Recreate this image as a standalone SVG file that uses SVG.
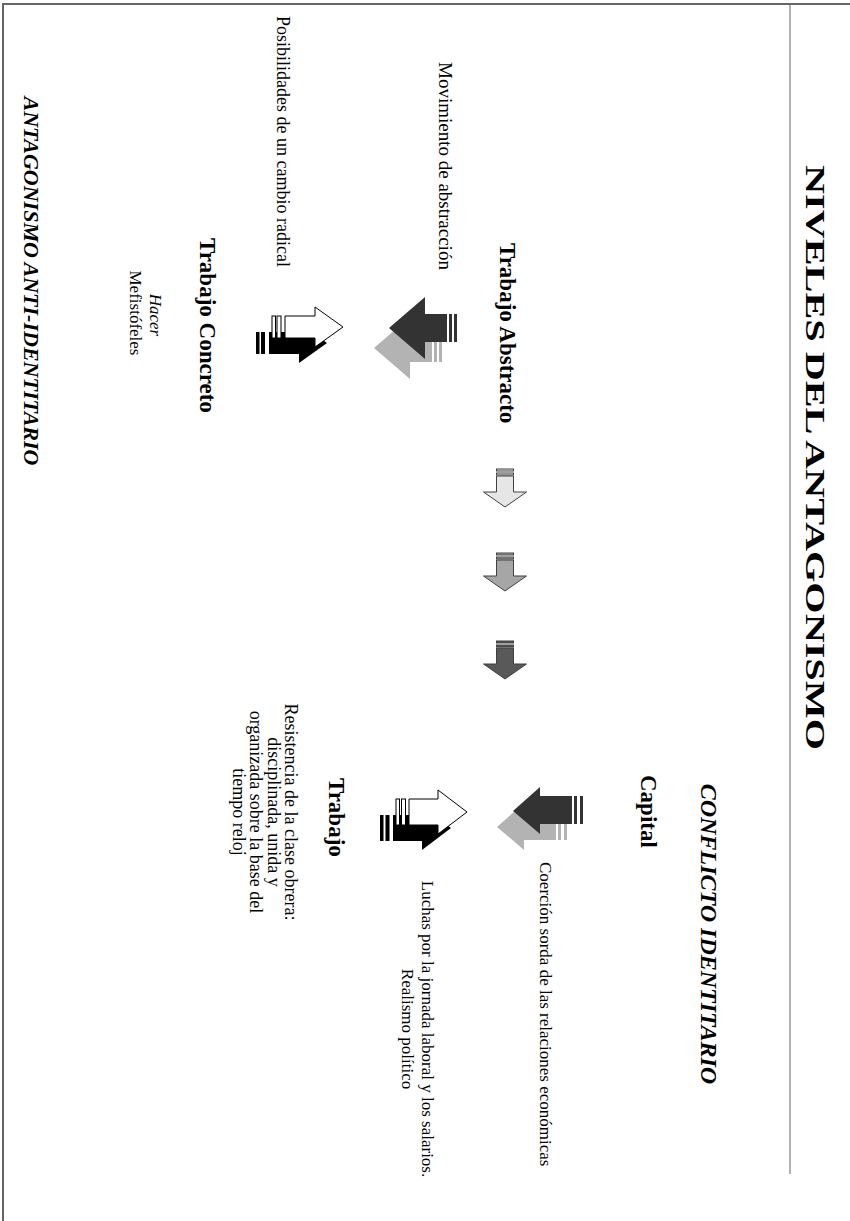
<svg xmlns="http://www.w3.org/2000/svg" width="850" height="1221" viewBox="0 0 850 1221">
<style>
.t{font-family:"Liberation Serif","Times New Roman",serif;fill:#000}
.b{font-weight:bold}
.i{font-style:italic}
.frame{stroke:#666;fill:none}
.dk{fill:#333}
.sh{fill:#b3b3b3}
.wh{fill:#fff;stroke:#000;stroke-width:1}
.bk{fill:#000}
.ga{stroke:#404040;stroke-width:1}
</style>
<defs>
<g id="leftArrowA">
<polygon points="0,0 36,-31 36,-14 58,-14 58,14 36,14 36,31"/>
<rect x="60" y="-14" width="3" height="28"/>
<rect x="65" y="-14" width="3" height="28"/>
</g>
<g id="leftArrow">
<polygon points="0,0 27,-24 27,-15 59,-15 59,13 27,13 27,23"/>
<rect x="61" y="-15" width="3" height="28"/>
<rect x="67" y="-15" width="3" height="28"/>
</g>
<g id="rightArrowC">
<polygon points="0,0 -28,-20 -28,-11 -58,-11 -58,11 -28,11 -28,20"/>
<rect x="-71" y="-11" width="3.5" height="22"/>
<rect x="-66" y="-11" width="4" height="22"/>
</g>
<g id="rightArrow">
<polygon points="0,0 -29,-22 -29,-13 -58,-13 -58,13 -29,13 -29,22"/>
<rect x="-71" y="-13" width="3.5" height="26"/>
<rect x="-65.5" y="-13" width="4" height="26"/>
</g>
<g id="downArrow">
<rect x="-8.5" y="0" width="17" height="2"/>
<rect x="-8.5" y="4" width="17" height="2"/>
<polygon points="-8.5,7 8.5,7 8.5,23 21.5,23 0,38 -21.5,23 -8.5,23"/>
</g>
</defs>

<g id="frame">
<line class="frame" x1="2" y1="4" x2="850" y2="4" stroke-width="2"/>
<line class="frame" x1="3" y1="4" x2="3" y2="1221" stroke-width="2"/>
<line class="frame" x1="790" y1="4" x2="790" y2="1174" stroke-width="1"/>
</g>

<g id="connectors">
<g id="arrow-abstracto">
<use href="#leftArrowA" class="sh" transform="translate(374,348)"/>
<use href="#leftArrowA" class="dk" transform="translate(389,328)"/>
</g>
<g id="arrow-concreto">
<use href="#rightArrowC" class="bk" transform="translate(327,343)"/>
<use href="#rightArrowC" class="wh" transform="translate(343,327)"/>
</g>
<g id="arrow-capital">
<use href="#leftArrow" class="sh" transform="translate(497,827)"/>
<use href="#leftArrow" class="dk" transform="translate(513,811)"/>
</g>
<g id="arrow-trabajo">
<use href="#rightArrow" class="bk" transform="translate(451,828)"/>
<use href="#rightArrow" class="wh" transform="translate(467,812)"/>
</g>
<g id="down-arrows">
<use href="#downArrow" class="ga" fill="#e6e6e6" transform="translate(505,469)"/>
<use href="#downArrow" class="ga" fill="#a6a6a6" transform="translate(505,553)"/>
<use href="#downArrow" class="ga" fill="#595959" transform="translate(505,641)"/>
</g>
</g>

<g id="labels" transform="matrix(0,1,-1,0,850,0)">
<g id="title"><text class="t b" x="457.5" y="44" font-size="27" text-anchor="middle" textLength="585" lengthAdjust="spacingAndGlyphs">NIVELES DEL ANTAGONISMO</text></g>
<g id="conflicto"><text class="t b i" x="934" y="149" font-size="24" text-anchor="middle">CONFLICTO IDENTITARIO</text></g>
<g id="capital">
<text class="t b" x="775" y="209" font-size="23">Capital</text>
<text class="t" x="862" y="310" font-size="17">Coerción sorda de las relaciones económicas</text>
</g>
<g id="trabajo">
<text class="t b" x="778" y="521" font-size="23">Trabajo</text>
<text class="t" x="1029" y="428" font-size="17" text-anchor="middle">Luchas por la jornada laboral y los salarios.</text>
<text class="t" x="1029" y="448" font-size="17" text-anchor="middle">Realismo político</text>
<text class="t" x="812" y="565" font-size="18" text-anchor="middle">Resistencia de la clase obrera:</text>
<text class="t" x="812" y="582.5" font-size="18" text-anchor="middle">disciplinada, unida y</text>
<text class="t" x="812" y="600" font-size="18" text-anchor="middle">organizada sobre la base del</text>
<text class="t" x="812" y="617.5" font-size="18" text-anchor="middle">tiempo reloj</text>
</g>
<g id="abstracto">
<text class="t b" x="243" y="350" font-size="23">Trabajo Abstracto</text>
<text class="t" x="62" y="411" font-size="19">Movimiento de abstracción</text>
</g>
<g id="concreto">
<text class="t b" x="238" y="650" font-size="23">Trabajo Concreto</text>
<text class="t" x="16" y="573" font-size="18">Posibilidades de un cambio radical</text>
<text class="t i" x="315" y="700" font-size="17" text-anchor="middle">Hacer</text>
<text class="t" x="313" y="720" font-size="17" text-anchor="middle">Mefistófeles</text>
</g>
<g id="anti"><text class="t b i" x="281" y="826" font-size="22" text-anchor="middle">ANTAGONISMO ANTI-IDENTITARIO</text></g>
</g>
</svg>
